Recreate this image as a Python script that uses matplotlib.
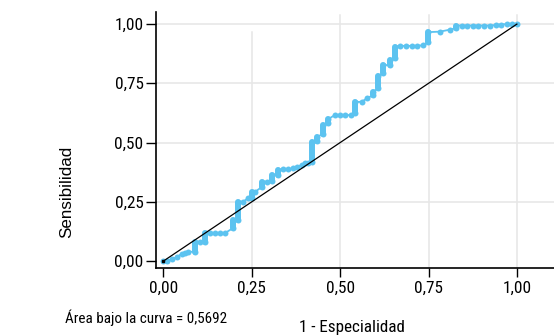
import matplotlib
matplotlib.use("Agg")
import matplotlib.pyplot as plt
from matplotlib import font_manager

# ---- data ----
fpr = [0.000, 0.009, 0.023, 0.037, 0.051, 0.061, 0.070, 0.089, 0.089, 0.103,
       0.117, 0.117, 0.132, 0.146, 0.160, 0.174, 0.197, 0.197, 0.211, 0.211,
       0.225, 0.239, 0.250, 0.250, 0.259, 0.278, 0.278, 0.292, 0.306, 0.306,
       0.325, 0.325, 0.339, 0.353, 0.367, 0.377, 0.391, 0.400, 0.410, 0.419,
       0.419, 0.433, 0.433, 0.451, 0.451, 0.466, 0.466, 0.485, 0.499, 0.514,
       0.530, 0.542, 0.542, 0.561, 0.575, 0.593, 0.593, 0.608, 0.608, 0.622,
       0.622, 0.641, 0.641, 0.655, 0.655, 0.669, 0.686, 0.702, 0.718, 0.735,
       0.749, 0.749, 0.782, 0.812, 0.827, 0.827, 0.844, 0.858, 0.875, 0.891,
       0.907, 0.923, 0.940, 0.954, 0.971, 0.986, 1.000]
tpr = [0.000, 0.000, 0.007, 0.016, 0.030, 0.035, 0.039, 0.039, 0.081, 0.081,
       0.081, 0.118, 0.118, 0.118, 0.118, 0.118, 0.139, 0.173, 0.173, 0.249,
       0.250, 0.265, 0.266, 0.291, 0.292, 0.312, 0.333, 0.335, 0.338, 0.363,
       0.363, 0.384, 0.387, 0.387, 0.391, 0.398, 0.405, 0.412, 0.415, 0.418,
       0.503, 0.506, 0.523, 0.536, 0.574, 0.582, 0.599, 0.616, 0.616, 0.616,
       0.616, 0.624, 0.671, 0.672, 0.686, 0.700, 0.714, 0.730, 0.781, 0.793,
       0.827, 0.827, 0.848, 0.857, 0.903, 0.908, 0.908, 0.908, 0.908, 0.911,
       0.924, 0.966, 0.968, 0.977, 0.983, 0.994, 0.994, 0.994, 0.994, 0.994,
       0.994, 0.994, 0.996, 0.998, 1.000, 1.000, 1.000]
ticks = [0.0, 0.25, 0.5, 0.75, 1.0]
tick_labels = ["0,00", "0,25", "0,50", "0,75", "1,00"]
auc_text = "Área bajo la curva = 0,5692"
x_title = "1 - Especialidad"
y_title = "Sensibilidad"

# ---- fonts ----
names = {f.name for f in font_manager.fontManager.ttflist}
narrow = next((n for n in ["Liberation Sans Narrow", "Arial Narrow", "Roboto Condensed",
                           "Archivo Narrow", "Liberation Sans"] if n in names), "DejaVu Sans")
regular = "Liberation Sans" if "Liberation Sans" in names else "DejaVu Sans"
plt.rcParams['font.family'] = [narrow, 'DejaVu Sans']

blue = '#5cc3f0'
grid_c = '#e6e6e6'

fig = plt.figure(figsize=(5.54, 3.35), dpi=100)
ax = fig.add_axes([156/554, 67/335, 398/554, 256/335])
ax.set_xlim(-0.0212, 1.105)
ax.set_ylim(-0.0295, 1.051)

# grid
for t in ticks[1:]:
    ax.axhline(t, color=grid_c, lw=1.1, zorder=0)
for t in ticks[1:]:
    top = 0.966 if t == 0.25 else 1.038
    ax.plot([t, t], [ax.get_ylim()[0], top], color=grid_c, lw=1.1, zorder=0)

# ROC curve
ax.plot(fpr, tpr, color=blue, lw=1.3, zorder=2, solid_capstyle='round')
for i in range(len(fpr) - 1):
    if fpr[i] == fpr[i + 1]:
        ax.plot([fpr[i], fpr[i + 1]], [tpr[i], tpr[i + 1]], color=blue, lw=4.3,
                solid_capstyle='round', zorder=3)
ax.plot(fpr, tpr, linestyle='none', marker='o', ms=4.3, color=blue,
        markeredgewidth=0, zorder=3)

# reference line
ax.plot([0, 1], [0, 1], color='black', lw=0.9, zorder=4)
ax.plot([0], [0], marker='s', ms=2, color='black', zorder=5)

for s in ['top', 'right']:
    ax.spines[s].set_visible(False)
for s in ['left', 'bottom']:
    ax.spines[s].set_linewidth(1.2)
    ax.spines[s].set_color('black')

ax.set_xticks(ticks)
ax.set_xticklabels(tick_labels)
ax.set_yticks(ticks)
ax.set_yticklabels(tick_labels)
ax.tick_params(axis='x', length=6.5, width=1.0, pad=2.5, labelsize=12)
ax.tick_params(axis='y', length=7.5, width=1.0, pad=1.5, labelsize=12)

t_y = fig.text(66.7/554, 1 - 192/335, y_title, rotation=90, ha='center', va='center',
               fontsize=12.5, family=[regular, 'DejaVu Sans'])
t_x = fig.text(352/554, 1 - 332/335, x_title, ha='center', va='baseline', fontsize=12)
t_a = fig.text(65/554, 1 - 322.5/335, auc_text, ha='left', va='baseline', fontsize=11)

# fit text sizes to the widths measured in the reference
fig.canvas.draw()
r = fig.canvas.get_renderer()

def fit(t, target, vertical=False):
    bb = t.get_window_extent(r)
    cur = bb.height if vertical else bb.width
    t.set_fontsize(t.get_fontsize() * target / cur)

fit(t_y, 92, vertical=True)
fit(t_x, 106)
fit(t_a, 161)
lab = ax.get_xticklabels()[0]
w = lab.get_window_extent(r).width
size = 12 * 28.5 / w
ax.tick_params(axis='both', labelsize=size)

fig.savefig('out.png', dpi=100)
